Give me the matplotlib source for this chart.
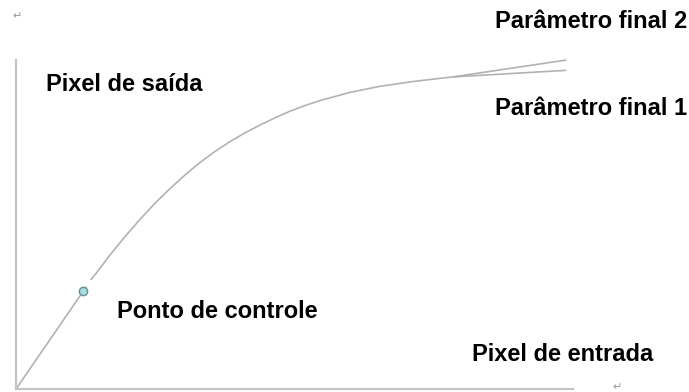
import matplotlib
matplotlib.use("Agg")
import matplotlib.pyplot as plt

# tone curve, input/output pixel values (0-255)
lower_in = [0, 15.6, 30.7, 32.3]
lower_out = [0, 38.4, 75.6, 79.4]
upper_in = [34.1, 36.9, 43.0, 49.9, 56.8, 63.6, 70.5, 77.4, 84.2, 91.1, 98.0,
            104.8, 111.7, 118.6, 125.4, 132.3, 139.2, 152.9, 166.6, 180.4,
            194.1, 200.1]
upper_out = [84.5, 90.1, 103.8, 118.1, 131.5, 143.9, 155.3, 165.9, 175.5, 184.1,
             191.8, 198.5, 204.6, 210.2, 215.3, 219.7, 223.6, 229.9, 234.6,
             238.0, 240.8, 241.9]
end_in = 252
final1_out = 247
final2_out = 255
control_in, control_out = 30.7, 75.6

labels = {
    "y": "Pixel de saída",
    "x": "Pixel de entrada",
    "ctrl": "Ponto de controle",
    "f1": "Parâmetro final 1",
    "f2": "Parâmetro final 2",
}

W, H = 689, 392
fig = plt.figure(figsize=(W / 100, H / 100), dpi=100)
ax = fig.add_axes([16 / W, 3 / H, 557 / W, 329 / H])
ax.set_xlim(0, 255)
ax.set_ylim(0, 255)

for s in ["top", "right"]:
    ax.spines[s].set_visible(False)
for s in ["left", "bottom"]:
    ax.spines[s].set_color("#c4c4c4")
    ax.spines[s].set_linewidth(1.6)
ax.set_xticks([])
ax.set_yticks([])

curve_kw = dict(color="#b2b2b2", lw=1.2, solid_capstyle="butt",
                solid_joinstyle="round", clip_on=False)
ax.plot(lower_in, lower_out, **curve_kw)
ax.plot(upper_in, upper_out, **curve_kw)
ax.plot([upper_in[-1], end_in], [upper_out[-1], final1_out], **curve_kw)
ax.plot([upper_in[-1], end_in], [upper_out[-1], final2_out], **curve_kw)

ax.plot([control_in], [control_out], "o", ms=6, mfc="#a8dce2", mec="#6a8c94",
        mew=1.0, clip_on=False, zorder=5)

font = dict(family=["Liberation Sans", "DejaVu Sans"], fontsize=17,
            fontweight="bold", color="black", va="baseline")


def put(text, px, py, **kw):
    fig.text(px / W, 1 - py / H, text, **font, **kw)


put(labels["y"], 46, 91)
put(labels["f2"], 495, 28)
put(labels["f1"], 495, 115)
put(labels["ctrl"], 117, 318)
put(labels["x"], 472, 361)

# Word paragraph marks
mark = dict(family="DejaVu Sans", fontsize=8, color="#9a9a9a", va="center", ha="center")
fig.text(17 / W, 1 - 16 / H, "\u21b5", **mark)
fig.text(617 / W, 1 - 387 / H, "\u21b5", **mark)

fig.savefig("out.png", dpi=100)
